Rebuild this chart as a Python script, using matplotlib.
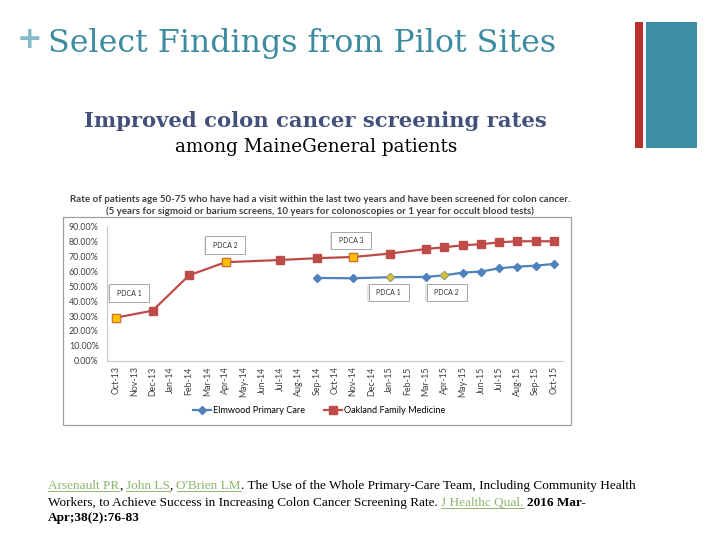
import matplotlib
matplotlib.use('Agg')
import matplotlib.pyplot as plt
from matplotlib.patches import Rectangle
from matplotlib.lines import Line2D

# ---------------- data ----------------
months = ['Oct-13', 'Nov-13', 'Dec-13', 'Jan-14', 'Feb-14', 'Mar-14', 'Apr-14',
          'May-14', 'Jun-14', 'Jul-14', 'Aug-14', 'Sep-14', 'Oct-14', 'Nov-14',
          'Dec-14', 'Jan-15', 'Feb-15', 'Mar-15', 'Apr-15', 'May-15', 'Jun-15',
          'Jul-15', 'Aug-15', 'Sep-15', 'Oct-15']

oakland_months = ['Oct-13', 'Dec-13', 'Feb-14', 'Apr-14', 'Jul-14', 'Sep-14', 'Nov-14',
                  'Jan-15', 'Mar-15', 'Apr-15', 'May-15', 'Jun-15', 'Jul-15', 'Aug-15',
                  'Sep-15', 'Oct-15']
oakland_values = [29.0, 33.7, 57.5, 66.3, 67.8, 69.0, 69.8, 72.1, 75.2, 76.4, 77.7,
                  78.4, 79.7, 80.4, 80.4, 80.4]
oakland_pdca = ['Oct-13', 'Apr-14', 'Nov-14']

elmwood_months = ['Sep-14', 'Nov-14', 'Jan-15', 'Mar-15', 'Apr-15', 'May-15', 'Jun-15',
                  'Jul-15', 'Aug-15', 'Sep-15', 'Oct-15']
elmwood_values = [55.7, 55.5, 56.2, 56.4, 57.5, 59.3, 60.0, 62.2, 63.3, 64.0, 65.1]
elmwood_pdca = ['Jan-15', 'Apr-15']

y_ticks = [0, 10, 20, 30, 40, 50, 60, 70, 80, 90]

series_names = ['Elmwood Primary Care', 'Oakland Family Medicine']

# ---------------- figure ----------------
W, H = 720, 540
fig = plt.figure(figsize=(7.2, 5.4), dpi=100)
fig.patch.set_facecolor('white')


def fx(px):
    return px / W


def fy(py):
    return 1 - py / H


TEAL = '#3B8EA5'
# slide decorations
fig.patches.append(Rectangle((fx(635), fy(148.3)), fx(643.3) - fx(635), fy(21.7) - fy(148.3),
                             transform=fig.transFigure, facecolor='#B7312C', edgecolor='none'))
fig.patches.append(Rectangle((fx(646), fy(148.3)), fx(697.3) - fx(646), fy(21.7) - fy(148.3),
                             transform=fig.transFigure, facecolor=TEAL, edgecolor='none'))

fig.text(fx(30), fy(40), '+', fontsize=22, fontweight='bold', color='#86BBCA',
         family='DejaVu Sans', va='center', ha='center')
fig.text(fx(48), fy(52), 'Select Findings from Pilot Sites', fontsize=22.8, color='#3D8BA0',
         family='DejaVu Serif', va='baseline', ha='left')

fig.text(fx(315), fy(127), 'Improved colon cancer screening rates', fontsize=15.2,
         fontweight='bold', color='#44507C', family='DejaVu Serif', va='baseline', ha='center')
fig.text(fx(316), fy(152), 'among MaineGeneral patients', fontsize=13.2, color='black',
         family='DejaVu Serif', va='baseline', ha='center')

# chart frame
fig.patches.append(Rectangle((fx(63), fy(425)), fx(571) - fx(63), fy(217) - fy(425),
                             transform=fig.transFigure, facecolor='none',
                             edgecolor='#A0A0A0', linewidth=0.9))

CF = 'Lato'
fig.text(fx(320), fy(200),
         'Rate of patients age 50-75 who have had a visit within the last two years and have been screened for colon cancer.',
         fontsize=7.0, fontweight='bold', color='#404040', family=CF, ha='center', va='center')
fig.text(fx(320), fy(211),
         '(5 years for sigmoid or barium screens, 10 years for colonoscopies or 1 year for occult blood tests)',
         fontsize=7.0, fontweight='bold', color='#404040', family=CF, ha='center', va='center')

# axes
x0, x1, ytop, ybot = 107, 563, 227, 360.7
ax = fig.add_axes([fx(x0), fy(ybot), fx(x1) - fx(x0), fy(ytop) - fy(ybot)])
ax.set_xlim(-0.5, len(months) - 0.5)
ax.set_ylim(0, 90)
ax.set_yticks(y_ticks)
ax.set_yticklabels([f'{v:.2f}%' for v in y_ticks], fontsize=6.4, family=CF, color='#404040')
ax.set_xticks(range(len(months)))
ax.set_xticklabels(months, rotation=90, fontsize=6.4, family=CF, color='#404040')
ax.tick_params(axis='y', length=0, pad=6)
ax.tick_params(axis='x', length=0, pad=4)
for s in ['top', 'right']:
    ax.spines[s].set_visible(False)
for s in ['left', 'bottom']:
    ax.spines[s].set_color('#C8C8C8')
    ax.spines[s].set_linewidth(0.8)

idx = {m: i for i, m in enumerate(months)}
RED = '#BE4B48'
BLUE = '#4F81BD'

ox = [idx[m] for m in oakland_months]
ex = [idx[m] for m in elmwood_months]
ax.plot(ex, elmwood_values, color=BLUE, lw=1.6, marker='D', ms=4, mfc=BLUE, mec=BLUE,
        zorder=3, clip_on=False)
ax.plot(ox, oakland_values, color=RED, lw=1.6, marker='s', ms=5.2, mfc=RED, mec=RED,
        zorder=3, clip_on=False)

for m in oakland_pdca:
    v = oakland_values[oakland_months.index(m)]
    ax.plot([idx[m]], [v], marker='s', ms=5.6, mfc='#FFC000', mec='#D0732A', mew=0.8,
            zorder=4, clip_on=False)
for m in elmwood_pdca:
    v = elmwood_values[elmwood_months.index(m)]
    ax.plot([idx[m]], [v], marker='D', ms=4, mfc='#D4C245', mec='#B9A93A', mew=0.6,
            zorder=4, clip_on=False)

# PDCA callout boxes (center month index, center value)
boxes = [('PDCA 1', 0.73, 45.4), ('PDCA 2', 5.99, 77.7), ('PDCA 3', 12.9, 80.9),
         ('PDCA 1', 14.94, 45.9), ('PDCA 2', 18.13, 45.9)]
bw, bh = 2.2, 12.0
for label, cx, cy in boxes:
    ax.add_patch(Rectangle((cx - bw / 2 - 0.08, cy - bh / 2 - 0.6), bw, bh, facecolor='#E6E6E6',
                           edgecolor='none', zorder=5))
    ax.add_patch(Rectangle((cx - bw / 2, cy - bh / 2), bw, bh, facecolor='white',
                           edgecolor='#A6A6A6', lw=0.7, zorder=6))
    ax.text(cx, cy, label, fontsize=5, family=CF, color='#333333', ha='center', va='center',
            zorder=7)

handles = [Line2D([], [], color=BLUE, lw=1.6, marker='D', ms=4),
           Line2D([], [], color=RED, lw=1.6, marker='s', ms=5.2)]
fig.legend(handles, series_names, loc='center', bbox_to_anchor=(fx(319), fy(411)), ncol=2,
           frameon=False, prop={'family': CF, 'size': 6.6}, handlelength=2.0,
           columnspacing=2.0, handletextpad=0.25)

# citation
LINK = '#8DB56A'
SERIF = 'Liberation Serif'
CS = 9.5
renderer = fig.canvas.get_renderer()


def measure(s, weight='normal'):
    t = fig.text(0, 0, s, fontsize=CS, family=SERIF, fontweight=weight)
    w = t.get_window_extent(renderer).width
    t.remove()
    return w


space_w = measure('x x') - measure('xx')


def draw_line(runs, xs, yb):
    x = xs
    for text, style in runs:
        while text.startswith(' '):
            x += space_w
            text = text[1:]
        color = LINK if style == 'link' else 'black'
        weight = 'bold' if style == 'bold' else 'normal'
        t = fig.text(fx(x), fy(yb), text, fontsize=CS, family=SERIF, fontweight=weight,
                     color=color, va='baseline', ha='left')
        w = t.get_window_extent(renderer).width
        if style == 'link':
            fig.add_artist(Line2D([fx(x), fx(x + w)], [fy(yb + 1.8), fy(yb + 1.8)],
                                  color=LINK, lw=0.7, transform=fig.transFigure))
        x += w


draw_line([('Arsenault PR', 'link'), (',', 'n'), (' John LS', 'link'), (',', 'n'),
           (" O'Brien LM", 'link'),
           ('. The Use of the Whole Primary-Care Team, Including Community Health', 'n')],
          48, 489)
draw_line([('Workers, to Achieve Success in Increasing Colon Cancer Screening Rate.', 'n'),
           (' J Healthc Qual.', 'link'), (' 2016 Mar-', 'bold')], 48, 506)
draw_line([('Apr;38(2):76-83', 'bold')], 48, 521)

fig.savefig('out.png', dpi=100)
